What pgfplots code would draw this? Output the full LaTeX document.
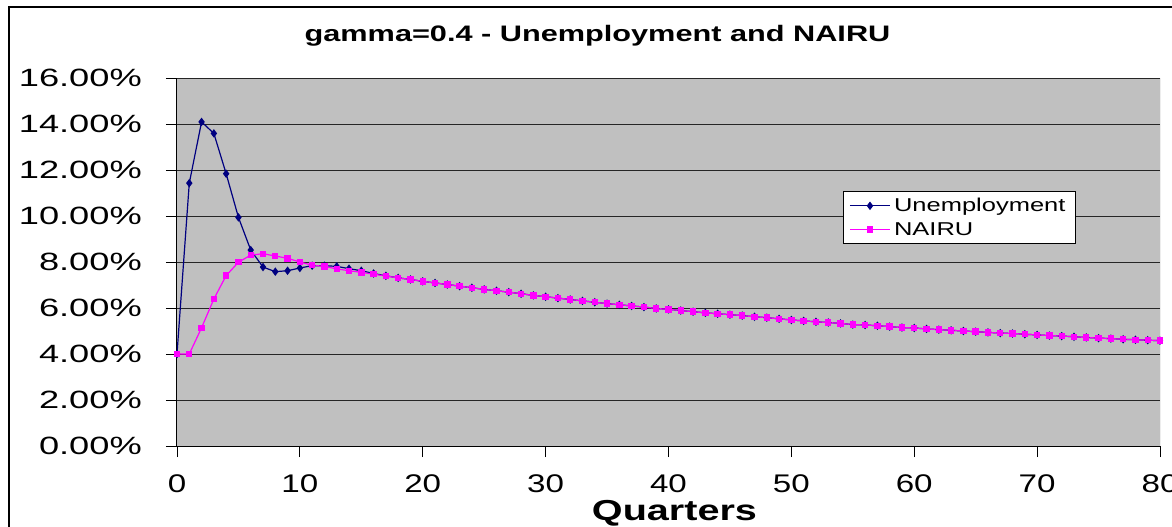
\documentclass[border=0pt]{standalone}
\usepackage{pgfplots}
\pgfplotsset{compat=1.18}
\usepackage{graphicx}
\usepackage{fontspec}
\setmainfont{Liberation Sans}
\definecolor{unempblue}{HTML}{000080}
\definecolor{nairupink}{HTML}{FF00FF}
\definecolor{plotgray}{HTML}{C0C0C0}
\newcommand{\hs}[2]{\scalebox{#1}[1]{#2}}

\begin{document}
\begin{tikzpicture}
\useasboundingbox (-177bp,-81bp) rectangle (995bp,446bp);
\draw[black, line width=1.5bp] (-168bp,-200bp) rectangle (1100bp,439bp);
\begin{axis}[
  scale only axis, width=983bp, height=368bp,
  xmin=0, xmax=80, ymin=0, ymax=16,
  xtick={0,10,...,80}, ytick={0,2,...,16},
  axis x line*=bottom, axis y line*=left,
  axis line style={black, line width=1bp},
  axis background/.style={fill=plotgray},
  ymajorgrids, grid style={black!85, line width=0.9bp},
  tick align=outside, major tick length=11bp,
  tick style={black, line width=0.9bp},
  /pgf/number format/assume math mode=true,
  yticklabel={\hs{1.45}{\pgfmathprintnumber[fixed,fixed zerofill,precision=2]{\tick}\%}},
  xticklabel={\hs{1.3}{\pgfmathprintnumber{\tick}}},
  yticklabel style={font=\fontsize{25bp}{25bp}\selectfont, anchor=east, inner sep=0pt, xshift=-24bp},
  xticklabel style={font=\fontsize{25.5bp}{25.5bp}\selectfont, anchor=north, inner sep=0pt, yshift=-17bp},
  legend cell align=left,
  legend style={at={(axis cs:54.2,11.09)}, anchor=north west, draw=black, fill=white,
    line width=0.8bp, font=\fontsize{18.6bp}{18.6bp}\selectfont,
    inner xsep=6bp, inner ysep=5bp, row sep=5bp,
    nodes={inner xsep=3.5bp}},
  legend image code/.code={\draw[mark repeat=2,mark phase=2,#1] plot coordinates {(0bp,0bp) (20bp,0bp) (40bp,0bp)};},
]
\addplot[unempblue, line width=1.2bp, mark=diamond*, mark size=3.3bp, mark options={solid}] coordinates {
(0,4.00) (1,11.43) (2,14.09) (3,13.59) (4,11.84) (5,9.94) (6,8.52) (7,7.78) (8,7.58) (9,7.62)
(10,7.74) (11,7.84) (12,7.84) (13,7.81) (14,7.71) (15,7.62) (16,7.50) (17,7.40) (18,7.31) (19,7.24)
(20,7.16) (21,7.09) (22,7.02) (23,6.95) (24,6.88) (25,6.81) (26,6.75) (27,6.69) (28,6.62) (29,6.55)
(30,6.49) (31,6.43) (32,6.37) (33,6.31) (34,6.25) (35,6.19) (36,6.14) (37,6.09) (38,6.04) (39,5.98)
(40,5.94) (41,5.89) (42,5.84) (43,5.79) (44,5.75) (45,5.71) (46,5.67) (47,5.62) (48,5.58) (49,5.53)
(50,5.48) (51,5.44) (52,5.40) (53,5.37) (54,5.33) (55,5.28) (56,5.26) (57,5.23) (58,5.19) (59,5.15)
(60,5.13) (61,5.09) (62,5.06) (63,5.03) (64,5.00) (65,4.97) (66,4.94) (67,4.91) (68,4.89) (69,4.86)
(70,4.83) (71,4.80) (72,4.78) (73,4.75) (74,4.72) (75,4.69) (76,4.67) (77,4.64) (78,4.62) (79,4.60)
(80,4.58)};
\addlegendentry{\hs{1.37}{Unemployment}}
\addplot[nairupink, line width=1.2bp, mark=square*, mark size=2.6bp, mark options={solid}] coordinates {
(0,4.00) (1,4.00) (2,5.14) (3,6.39) (4,7.41) (5,7.99) (6,8.30) (7,8.36) (8,8.26) (9,8.16)
(10,8.00) (11,7.86) (12,7.81) (13,7.70) (14,7.62) (15,7.55) (16,7.47) (17,7.39) (18,7.31) (19,7.24)
(20,7.16) (21,7.09) (22,7.02) (23,6.95) (24,6.88) (25,6.81) (26,6.75) (27,6.69) (28,6.62) (29,6.55)
(30,6.49) (31,6.43) (32,6.37) (33,6.31) (34,6.25) (35,6.19) (36,6.14) (37,6.09) (38,6.04) (39,5.98)
(40,5.94) (41,5.89) (42,5.84) (43,5.79) (44,5.75) (45,5.71) (46,5.67) (47,5.62) (48,5.58) (49,5.53)
(50,5.48) (51,5.44) (52,5.40) (53,5.37) (54,5.33) (55,5.28) (56,5.26) (57,5.23) (58,5.19) (59,5.15)
(60,5.13) (61,5.09) (62,5.06) (63,5.03) (64,5.00) (65,4.97) (66,4.94) (67,4.91) (68,4.89) (69,4.86)
(70,4.83) (71,4.80) (72,4.78) (73,4.75) (74,4.72) (75,4.69) (76,4.67) (77,4.64) (78,4.62) (79,4.60)
(80,4.58)};
\addlegendentry{\hs{1.37}{NAIRU}}
\draw[black!55, line width=1bp] (axis cs:80,0) -- (axis cs:80,16);
\end{axis}
\node[font=\bfseries\fontsize{22.4bp}{22.4bp}\selectfont, anchor=base] at (420.5bp,404bp) {\hs{1.37}{gamma=0.4 - Unemployment and NAIRU}};
\node[font=\bfseries\fontsize{28.9bp}{28.9bp}\selectfont, anchor=base] at (497.5bp,-74bp) {\hs{1.37}{Quarters}};
\end{tikzpicture}
\end{document}
